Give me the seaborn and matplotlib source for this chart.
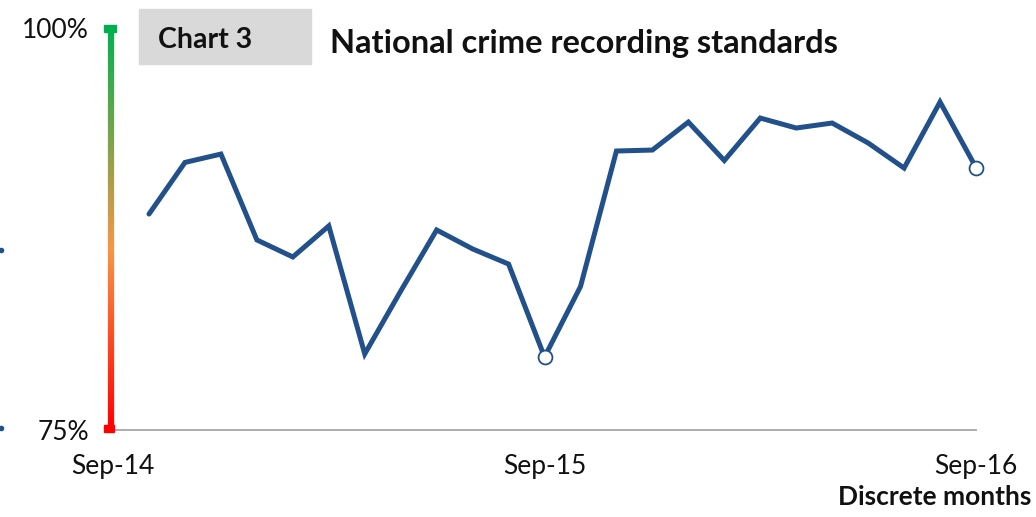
import numpy as np
import pandas as pd
import matplotlib
matplotlib.use("Agg")
import matplotlib.pyplot as plt
import seaborn as sns
from matplotlib.collections import LineCollection
from matplotlib.colors import LinearSegmentedColormap
from matplotlib.patches import Rectangle

months = ["Oct-14", "Nov-14", "Dec-14", "Jan-15", "Feb-15", "Mar-15", "Apr-15", "May-15",
          "Jun-15", "Jul-15", "Aug-15", "Sep-15", "Oct-15", "Nov-15", "Dec-15", "Jan-16",
          "Feb-16", "Mar-16", "Apr-16", "May-16", "Jun-16", "Jul-16", "Aug-16", "Sep-16"]
values = [88.43, 91.64, 92.16, 86.82, 85.76, 87.69, 79.73, 83.64, 87.44, 86.26, 85.32, 79.54,
          83.92, 92.35, 92.41, 94.15, 91.76, 94.40, 93.78, 94.09, 92.85, 91.29, 95.40, 91.32]
highlight = ["Sep-15", "Sep-16"]
tick_labels = ["Sep-14", "Sep-15", "Sep-16"]
tick_pos = [-1, 11, 23]
y_ticks = [75, 100]
y_tick_labels = ["75%", "100%"]

df = pd.DataFrame({"month": months, "value": values, "i": np.arange(len(months))})

sns.set_theme(style="white")
plt.rcParams["font.family"] = ["Lato", "DejaVu Sans"]

W, H = 1036, 517
fig = plt.figure(figsize=(W / 100, H / 100), dpi=100)
ax = fig.add_axes([110 / W, (H - 430) / H, (976 - 110) / W, (430 - 28) / H])

line_col = "#21508A"
sns.lineplot(data=df, x="i", y="value", ax=ax, color=line_col, linewidth=3.6,
             solid_joinstyle="miter", clip_on=False)
hl = df[df["month"].isin(highlight)]
ax.plot(hl["i"], hl["value"], linestyle="none", marker="o", markersize=10,
        markerfacecolor="white", markeredgecolor=line_col, markeredgewidth=1.3,
        clip_on=False, zorder=5)

x0 = -1.085
ax.set_xlim(x0, 23)
ax.set_ylim(75, 100)
for s in ["top", "right", "left"]:
    ax.spines[s].set_visible(False)
ax.spines["bottom"].set_color("#A6A6A6")
ax.spines["bottom"].set_linewidth(1.3)

ax.set_xticks(tick_pos)
ax.set_xticklabels(tick_labels, fontsize=19, color="#111111")
ax.set_yticks(y_ticks)
ax.set_yticklabels(y_tick_labels, fontsize=19, color="#111111")
ax.tick_params(axis="x", length=0, pad=17)
ax.tick_params(axis="y", length=0, pad=15)
ax.set_xlabel("")
ax.set_ylabel("")

# gradient y-axis line
cmap = LinearSegmentedColormap.from_list("g", [(0, "#FF0000"), (0.45, "#F79646"), (1.0, "#00B050")])
ys = np.linspace(75, 100, 300)
pts = np.array([[x0 + 0.03, y] for y in ys]).reshape(-1, 1, 2)
segs = np.concatenate([pts[:-1], pts[1:]], axis=1)
lc = LineCollection(segs, colors=cmap(np.linspace(0, 1, len(segs))), linewidths=4.5,
                    clip_on=False, capstyle="butt")
ax.add_collection(lc)
fig.patches.append(Rectangle((104 / W, (H - 32) / H), 12 / W, 7 / H, transform=fig.transFigure,
                             color="#00B050", zorder=3))
fig.patches.append(Rectangle((104 / W, (H - 432) / H), 10 / W, 7 / H, transform=fig.transFigure,
                             color="#FF0000", zorder=3))

# title box
fig.patches.append(Rectangle((139 / W, (H - 64) / H), (311 - 139) / W, 55 / H,
                             transform=fig.transFigure, color="#D9D9D9", zorder=0))
fig.text(158 / W, (H - 40) / H, "Chart 3", fontsize=20.5, fontweight="bold", ha="left",
         va="center", color="#111111")
fig.text(330 / W, (H - 43) / H, "National crime recording standards", fontsize=23.5,
         fontweight="bold", ha="left", va="center", color="#111111")
fig.text(1031 / W, (H - 497) / H, "Discrete months", fontsize=19, fontweight="bold",
         ha="right", va="center", color="#111111")

# small stray marks at the left edge
fig.lines.append(plt.Line2D([1 / W], [(H - 250) / H], transform=fig.transFigure, marker="o",
                            markersize=3, color=line_col, linestyle="none"))
fig.lines.append(plt.Line2D([1 / W], [(H - 428) / H], transform=fig.transFigure, marker="o",
                            markersize=3, color=line_col, linestyle="none"))

fig.savefig("out.png", dpi=100)
